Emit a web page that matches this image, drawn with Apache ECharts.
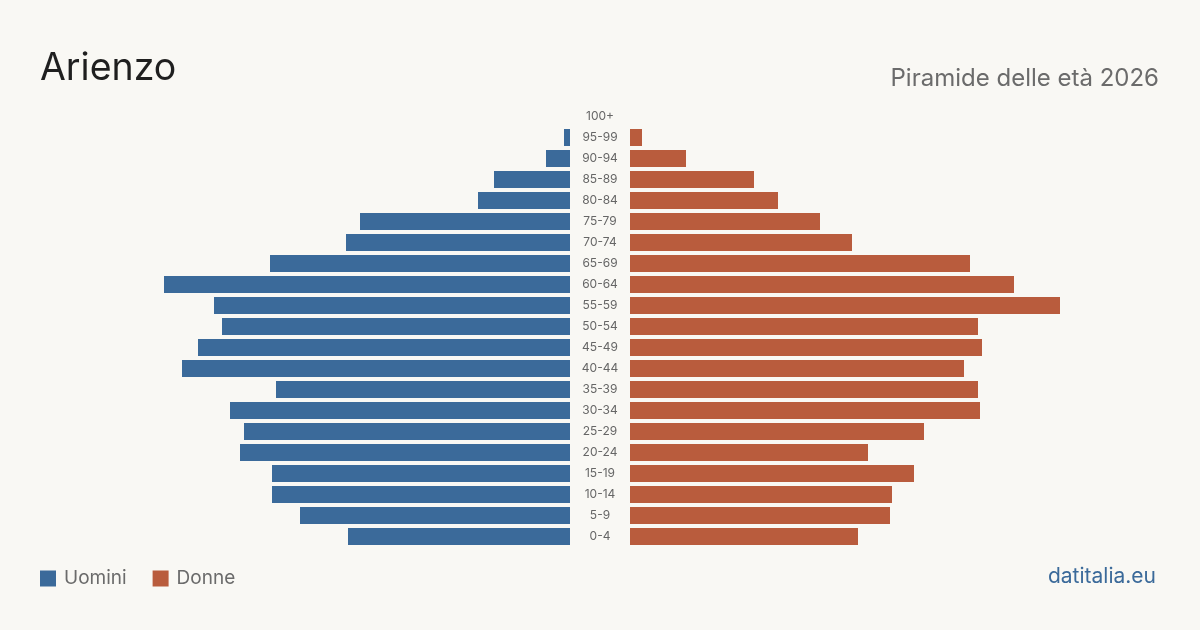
<!DOCTYPE html>
<html>
<head>
<meta charset="utf-8">
<script src="https://cdn.jsdelivr.net/npm/echarts@6/dist/echarts.min.js"></script>
<style>
  html, body { margin: 0; padding: 0; background: #f9f8f4; }
  #chart { width: 1200px; height: 630px; }
</style>
</head>
<body>
<div id="chart"></div>
<script>
// fasce d'età, dall'alto verso il basso
var ageGroups = ['100+', '95-99', '90-94', '85-89', '80-84', '75-79', '70-74', '65-69', '60-64', '55-59',
    '50-54', '45-49', '40-44', '35-39', '30-34', '25-29', '20-24', '15-19', '10-14', '5-9', '0-4'];
var uomini = [0, 3, 12, 38, 46, 105, 112, 150, 203, 178,
    174, 186, 194, 147, 170, 163, 165, 149, 149, 135, 111];
var donne = [0, 6, 28, 62, 74, 95, 111, 170, 192, 215,
    174, 176, 167, 174, 175, 147, 119, 142, 131, 130, 114];

var maxVal = Math.max.apply(null, uomini.concat(donne));
var BLUE = '#3b6a9a', RED = '#b95c3d';
var font = 'Inter, "Noto Sans", sans-serif';

var chart = echarts.init(document.getElementById('chart'));
chart.setOption({
    backgroundColor: '#f9f8f4',
    animation: false,
    textStyle: { fontFamily: font },
    title: [
        { text: 'Arienzo', left: 35, top: 45,
          textStyle: { fontFamily: font, fontSize: 37.5, fontWeight: 'normal', color: '#1f1f1f' } },
        { text: 'Piramide delle età 2026', right: 36, top: 62,
          textStyle: { fontFamily: font, fontSize: 24, fontWeight: 'normal', color: '#6b6b6b' } },
        { text: 'datitalia.eu', right: 39, top: 561,
          textStyle: { fontFamily: font, fontSize: 21, fontWeight: 'normal', color: BLUE } }
    ],
    legend: {
        data: ['Uomini', 'Donne'],
        left: 35, top: 564,
        itemWidth: 16, itemHeight: 16, itemGap: 26,
        icon: 'rect',
        formatter: '{n|{name}}',
        textStyle: {
            fontFamily: font, fontSize: 19, color: '#6b6b6b',
            rich: { n: { fontFamily: font, fontSize: 19, color: '#6b6b6b', padding: [0, 0, 0, 3] } }
        }
    },
    grid: [
        { left: 140, width: 430, top: 106, height: 441 },
        { left: 630, width: 430, top: 106, height: 441 }
    ],
    xAxis: [
        { gridIndex: 0, type: 'value', inverse: true, min: 0, max: maxVal, show: false },
        { gridIndex: 1, type: 'value', min: 0, max: maxVal, show: false }
    ],
    yAxis: [
        { gridIndex: 0, type: 'category', data: ageGroups, inverse: true, show: false },
        { gridIndex: 1, type: 'category', data: ageGroups, inverse: true,
          axisLine: { show: false }, axisTick: { show: false }, splitLine: { show: false },
          axisLabel: { margin: 30, align: 'center', fontSize: 12, color: '#666', fontFamily: font } }
    ],
    series: [
        { name: 'Uomini', type: 'bar', xAxisIndex: 0, yAxisIndex: 0, data: uomini,
          barWidth: 17, itemStyle: { color: BLUE } },
        { name: 'Donne', type: 'bar', xAxisIndex: 1, yAxisIndex: 1, data: donne,
          barWidth: 17, itemStyle: { color: RED } }
    ]
});
</script>
</body>
</html>
